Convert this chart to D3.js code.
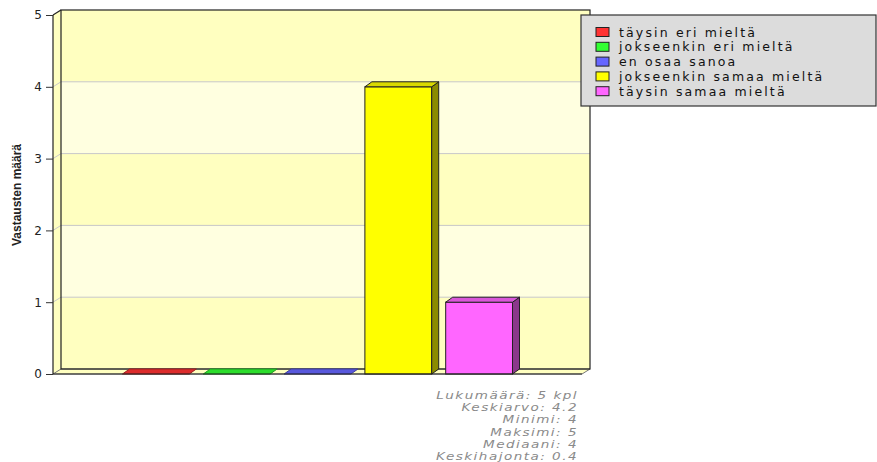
<!DOCTYPE html>
<html>
<head>
<meta charset="utf-8">
<script src="https://cdn.jsdelivr.net/npm/d3@7"></script>
<style>
  html, body { margin: 0; padding: 0; background: #fff; }
  svg { display: block; }
</style>
</head>
<body>
<script>
// ---- data ----
const categories = ["täysin eri mieltä", "jokseenkin eri mieltä", "en osaa sanoa", "jokseenkin samaa mieltä", "täysin samaa mieltä"];
const values = [0, 0, 0, 4, 1];
const colors = ["#ff3333", "#33ff33", "#6666ff", "#ffff00", "#ff66ff"];
const yTicks = [0, 1, 2, 3, 4, 5];
const yTitle = "Vastausten määrä";
const statsLines = ["Lukumäärä: 5 kpl", "Keskiarvo: 4.2", "Minimi: 4", "Maksimi: 5", "Mediaani: 4", "Keskihajonta: 0.4"];

// ---- layout ----
const W = 877, H = 462;
const svg = d3.select("body").append("svg").attr("width", W).attr("height", H);

const x0 = 53, x1 = 582, yBottom = 374, yTop = 15;
const dx = 8, dy = 5;      // wall depth
const bdx = 7, bdy = 5;    // bar depth

const y = d3.scaleLinear().domain([0, 5]).range([yBottom, yTop]);
const x = d3.scaleBand().domain(categories).range([x0, x1]).paddingInner(0.173).paddingOuter(0.86);

const g = svg.append("g");

// back wall bands
const bands = d3.range(5);
g.selectAll("rect.band").data(bands).join("rect")
  .attr("x", x0 + dx)
  .attr("y", d => y(d + 1) - dy)
  .attr("width", x1 - x0)
  .attr("height", d => y(d) - y(d + 1))
  .attr("fill", d => d % 2 === 0 ? "#ffffc0" : "#ffffe0");

// left wall
g.append("path")
  .attr("d", `M${x0},${y(5)} L${x0 + dx},${y(5) - dy} L${x0 + dx},${yBottom - dy} L${x0},${yBottom} Z`)
  .attr("fill", "#ffffc0");

// floor
g.append("path")
  .attr("d", `M${x0},${yBottom} L${x0 + dx},${yBottom - dy} L${x1 + dx},${yBottom - dy} L${x1},${yBottom} Z`)
  .attr("fill", "#ffffc0")
  .attr("stroke", "#777").attr("stroke-width", 1);

// grid lines
g.selectAll("path.grid").data(yTicks.filter(t => t > 0 && t < 5)).join("path")
  .attr("d", t => `M${x0},${y(t)} L${x0 + dx},${y(t) - dy} L${x1 + dx},${y(t) - dy}`)
  .attr("fill", "none").attr("stroke", "#c8c8c8").attr("stroke-width", 1);

// back wall outline
g.append("rect")
  .attr("x", x0 + dx).attr("y", y(5) - dy)
  .attr("width", x1 - x0).attr("height", yBottom - y(5))
  .attr("fill", "none").attr("stroke", "#222").attr("stroke-width", 1.2);
g.append("path")
  .attr("d", `M${x0},${y(5)} L${x0 + dx},${y(5) - dy}`)
  .attr("stroke", "#222").attr("stroke-width", 1.2);

// bars
const bars = g.selectAll("g.bar").data(categories.map((c, i) => ({c, v: values[i], col: colors[i]}))).join("g");
bars.each(function(d) {
  const sel = d3.select(this);
  const bx = x(d.c), bw = x.bandwidth();
  const yt = y(d.v), yb = y(0);
  const base = d3.color(d.col);
  const top = base.darker(0.45).formatHex();
  const side = base.darker(1.7).formatHex();
  if (d.v > 0) {
    sel.append("rect").attr("x", bx).attr("y", yt).attr("width", bw).attr("height", yb - yt)
      .attr("fill", d.col).attr("stroke", "#222").attr("stroke-width", 1);
    sel.append("path")
      .attr("d", `M${bx + bw},${yt} L${bx + bw + bdx},${yt - bdy} L${bx + bw + bdx},${yb - bdy} L${bx + bw},${yb} Z`)
      .attr("fill", side).attr("stroke", "#222").attr("stroke-width", 1);
  }
  sel.append("path")
    .attr("d", `M${bx},${yt} L${bx + bdx},${yt - bdy} L${bx + bw + bdx},${yt - bdy} L${bx + bw},${yt} Z`)
    .attr("fill", d.v > 0 ? top : base.darker(0.4).formatHex())
    .attr("stroke", d.v > 0 ? "#222" : base.darker(1.4).formatHex()).attr("stroke-width", 1);
});

// front axes
g.append("line").attr("x1", x0).attr("x2", x0).attr("y1", y(5)).attr("y2", yBottom).attr("stroke", "#222").attr("stroke-width", 1.2);
g.append("line").attr("x1", x0).attr("x2", x1).attr("y1", yBottom).attr("y2", yBottom).attr("stroke", "#222").attr("stroke-width", 1.2);

// y axis ticks
const yAxis = d3.axisLeft(y).tickValues(yTicks).tickSize(7).tickPadding(4).tickFormat(d3.format("d"));
const ax = svg.append("g").attr("transform", `translate(${x0},0)`).call(yAxis);
ax.select(".domain").remove();
ax.selectAll(".tick line").attr("stroke", "#333");
ax.selectAll(".tick text").attr("font-family", "DejaVu Sans, sans-serif").attr("font-size", 12).attr("fill", "#222");

// y title
svg.append("text")
  .attr("transform", `translate(21,195) rotate(-90)`)
  .attr("text-anchor", "middle")
  .attr("font-family", "Liberation Sans Narrow, Liberation Sans, sans-serif")
  .attr("font-weight", "bold")
  .attr("font-size", 12)
  .attr("fill", "#222")
  .text(yTitle);

// legend
const lg = svg.append("g");
lg.append("rect").attr("x", 581).attr("y", 15).attr("width", 295).attr("height", 91)
  .attr("fill", "#dcdcdc").attr("stroke", "#333").attr("stroke-width", 1.2);
const items = lg.selectAll("g.item").data(categories).join("g")
  .attr("transform", (d, i) => `translate(596,${27.5 + i * 14.8})`);
items.append("rect").attr("width", 13).attr("height", 9)
  .attr("fill", (d, i) => colors[i]).attr("stroke", "#222").attr("stroke-width", 1);
items.append("text").attr("x", 23).attr("y", 9)
  .attr("font-family", "DejaVu Sans, sans-serif").attr("font-size", 12.5)
  .attr("letter-spacing", "2.15px")
  .attr("fill", "#111")
  .text(d => d);

// stats
svg.append("g").attr("transform", "translate(578,0) scale(1.23,1)")
  .selectAll("text").data(statsLines).join("text")
  .attr("x", 0).attr("y", (d, i) => 399 + i * 12.2)
  .attr("text-anchor", "end")
  .attr("font-family", "DejaVu Sans, sans-serif").attr("font-style", "italic")
  .attr("font-size", 11).attr("letter-spacing", "1.2px")
  .attr("fill", "#8a8a8a")
  .text(d => d);
</script>
</body>
</html>
